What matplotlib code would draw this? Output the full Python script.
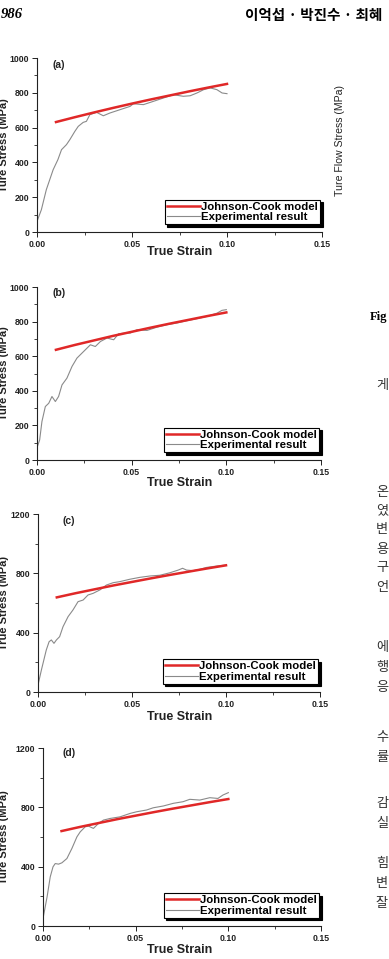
import matplotlib
matplotlib.use("Agg")
import matplotlib.pyplot as plt
from matplotlib.ticker import MultipleLocator, FormatStrFormatter

# ---------------- data ----------------
panel_labels = ["(a)", "(b)", "(c)", "(d)"]
ylabels = ["Ture Stress (MPa)", "Ture Stress (MPa)", "True Stress (MPa)", "Ture Stress (MPa)"]
ymax = [1000, 1000, 1200, 1200]
ymajor = [200, 200, 400, 400]
yminor = [100, 100, 200, 200]
xticks = [0.00, 0.05, 0.10, 0.15]

jc_strain = [0.01, 0.02, 0.03, 0.04, 0.05, 0.06, 0.07, 0.08, 0.09, 0.10]
jc_a = [632, 660, 687, 713, 738, 762, 785, 808, 830, 851]
jc_b = [637, 665, 691, 717, 741, 765, 788, 810, 832, 853]
jc_c = [638, 666, 692, 718, 742, 766, 789, 811, 833, 854]
jc_d = [640, 668, 694, 720, 744, 768, 791, 813, 835, 856]

exp_a_strain = [0.0, 0.0023, 0.0049, 0.0085, 0.011, 0.0129, 0.0155, 0.0173, 0.0199, 0.0217,
                0.0243, 0.026, 0.0278, 0.0313, 0.0349, 0.0384, 0.0437, 0.049, 0.0507, 0.056,
                0.0613, 0.0665, 0.0718, 0.077, 0.0806, 0.0842, 0.0877, 0.0912, 0.0947, 0.0974, 0.10]
exp_a_stress = [61, 128, 243, 358, 416, 473, 502, 531, 578, 607,
                630, 636, 674, 688, 668, 684, 703, 722, 737, 732,
                751, 770, 789, 780, 783, 799, 818, 828, 818, 799, 795]

exp_b_strain = [0.0, 0.0014, 0.0026, 0.0044, 0.0062, 0.0079, 0.0097, 0.0114, 0.0132, 0.0158,
                0.0185, 0.0211, 0.0246, 0.0282, 0.0308, 0.0335, 0.037, 0.0405, 0.0431, 0.0467,
                0.0493, 0.0528, 0.0581, 0.0634, 0.0687, 0.074, 0.0792, 0.0845, 0.0898, 0.0951, 0.0977, 0.10]
exp_b_stress = [71, 116, 222, 309, 328, 367, 338, 367, 434, 473,
                541, 589, 627, 666, 656, 685, 705, 695, 730, 734,
                734, 753, 749, 768, 782, 792, 805, 817, 830, 849, 865, 869]

exp_c_strain = [0.0, 0.0018, 0.0044, 0.0059, 0.0071, 0.0085, 0.0098, 0.0115, 0.0133, 0.016,
                0.0186, 0.0213, 0.024, 0.0266, 0.0293, 0.0329, 0.0364, 0.04, 0.0435, 0.0488,
                0.0542, 0.0595, 0.0648, 0.0702, 0.0746, 0.0769, 0.079, 0.0826, 0.0861, 0.0897, 0.095, 0.10]
exp_c_stress = [47, 148, 283, 339, 351, 328, 351, 373, 440, 508,
                553, 609, 620, 654, 665, 688, 721, 737, 744, 760,
                773, 782, 787, 804, 822, 834, 822, 818, 827, 840, 849, 856]

exp_d_strain = [0.0, 0.0022, 0.0039, 0.0054, 0.0066, 0.0084, 0.0102, 0.0129, 0.0156, 0.0183,
                0.0201, 0.0228, 0.0246, 0.0272, 0.0299, 0.0326, 0.0362, 0.0416, 0.047, 0.0505,
                0.0559, 0.0595, 0.0649, 0.0703, 0.0756, 0.0792, 0.0846, 0.09, 0.0944, 0.0971, 0.10]
exp_d_stress = [50, 196, 331, 399, 421, 417, 426, 455, 523, 601,
                635, 669, 673, 658, 691, 714, 725, 736, 759, 770,
                782, 797, 809, 827, 838, 854, 849, 865, 860, 883, 899]

jc_all = [jc_a, jc_b, jc_c, jc_d]
exp_all = [(exp_a_strain, exp_a_stress), (exp_b_strain, exp_b_stress),
           (exp_c_strain, exp_c_stress), (exp_d_strain, exp_d_stress)]

legend_labels = ["Johnson-Cook model", "Experimental result"]
header_left = "986"
header_right = "이억섭 · 박진수 · 최혜"
side_label = "Ture Flow Stress (MPa)"
side_chars = [("게", 385), ("온", 492), ("였", 511), ("변", 530), ("용", 549), ("구", 568),
              ("언", 588), ("에", 647), ("행", 667), ("응", 687), ("수", 738), ("률", 758),
              ("감", 803), ("실", 823), ("힘", 863), ("변", 883), ("잘", 903)]

# ---------------- layout (pixels) ----------------
W, H = 389, 959
boxes = [(37, 322, 58, 232), (37, 321, 287, 460), (38, 320, 514, 692), (43, 321, 748, 926)]
label_pos = [(53, 65), (53, 293), (63, 521), (63, 753)]
xlab_y = [252, 483, 717, 950]

fig = plt.figure(figsize=(W / 100, H / 100), dpi=100)
fig.patch.set_facecolor("white")
font = "Liberation Sans"

for i in range(4):
    l, r, t, b = boxes[i]
    ax = fig.add_axes([l / W, 1 - b / H, (r - l) / W, (b - t) / H])
    ax.plot(exp_all[i][0], exp_all[i][1], color="#8a8a8a", lw=0.8, label=legend_labels[1], zorder=2)
    ax.plot(jc_strain, jc_all[i], color="#e02828", lw=1.8, label=legend_labels[0], zorder=3)
    ax.set_xlim(0, 0.15)
    ax.set_ylim(0, ymax[i])
    ax.spines["top"].set_visible(False)
    ax.spines["right"].set_visible(False)
    for s in ("left", "bottom"):
        ax.spines[s].set_linewidth(0.8)
        ax.spines[s].set_color("#222222")
    ax.set_xticks(xticks)
    ax.xaxis.set_minor_locator(MultipleLocator(0.025))
    ax.yaxis.set_major_locator(MultipleLocator(ymajor[i]))
    ax.yaxis.set_minor_locator(MultipleLocator(yminor[i]))
    ax.xaxis.set_major_formatter(FormatStrFormatter("%.2f"))
    ax.tick_params(which="major", direction="out", length=3.5, width=0.7, pad=2,
                   labelsize=6.3, colors="#222222")
    ax.tick_params(which="minor", direction="out", length=2, width=0.6, colors="#222222")
    for lab in ax.get_xticklabels() + ax.get_yticklabels():
        lab.set_fontweight("bold")
        lab.set_fontfamily(font)
    handles, labels = ax.get_legend_handles_labels()
    leg = ax.legend(handles[::-1], labels[::-1], loc="lower right", bbox_to_anchor=(0.993, 0.045),
                    borderaxespad=0, frameon=True, fancybox=False, edgecolor="black",
                    framealpha=1, shadow={"color": "black", "alpha": 1, "ox": 1.8, "oy": -1.8},
                    prop={"family": font, "weight": "bold", "size": 8.2},
                    handlelength=2.9, handletextpad=0.1, labelspacing=0.05, borderpad=0.18)
    leg.get_frame().set_linewidth(0.8)
    fig.text(label_pos[i][0] / W, 1 - label_pos[i][1] / H, panel_labels[i], ha="left", va="center",
             fontsize=7.5, fontweight="bold", family=font, color="#222222")
    fig.text(180 / W, 1 - xlab_y[i] / H, "True Strain", ha="center", va="center",
             fontsize=9, fontweight="bold", family=font, color="#222222")
    fig.text(4.5 / W, 1 - (t + b) / 2 / H, ylabels[i], ha="center", va="center", rotation=90,
             fontsize=8, fontweight="bold", family=font, color="#222222")

fig.text(0.5 / W, 1 - 15 / H, header_left, ha="left", va="center", fontsize=10.5,
         fontweight="bold", style="italic", family="Liberation Serif")
fig.text(245 / W, 1 - 15 / H, header_right, ha="left", va="center", fontsize=10.5,
         family=["Noto Sans CJK KR", "DejaVu Sans"], fontweight="bold")
fig.text(340 / W, 1 - 141 / H, side_label, ha="center", va="center", rotation=90,
         fontsize=7.6, family=font, color="#222222")
fig.text(370 / W, 1 - 317 / H, "Fig", ha="left", va="center", fontsize=9,
         fontweight="bold", family="Liberation Serif")
for ch, y in side_chars:
    fig.text(376 / W, 1 - y / H, ch, ha="left", va="center", fontsize=9.5,
             family=["Noto Sans CJK KR", "DejaVu Sans"], fontweight="light", color="#333333")

fig.savefig("out.png", dpi=100, facecolor="white")
